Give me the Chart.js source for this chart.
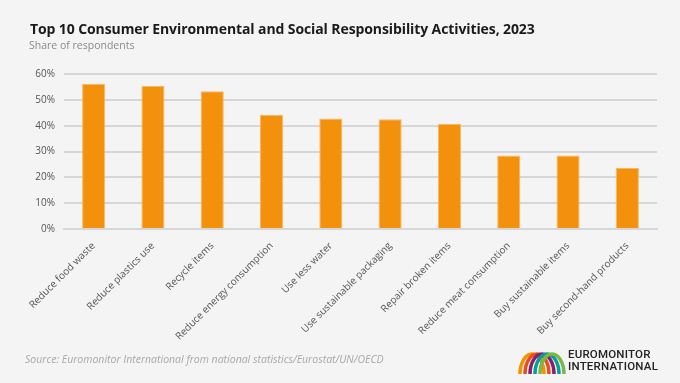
<!DOCTYPE html>
<html>
<head>
<meta charset="utf-8">
<script src="https://cdn.jsdelivr.net/npm/chart.js@4"></script>
<style>
  html, body { margin: 0; padding: 0; background: #f4f4f4; }
  #wrap { position: relative; width: 680px; height: 383px; overflow: hidden; font-family: "Open Sans", sans-serif; }
  #chart { position: absolute; left: 0; top: 0; }
  .title { position: absolute; left: 30px; top: 19px; font-size: 14px; font-weight: 700; color: #1a1a1a; white-space: nowrap; letter-spacing: -0.1px; }
  .subtitle { position: absolute; left: 29px; top: 38px; font-size: 10.5px; color: #8a8a8a; }
  .source { position: absolute; left: 25px; top: 352px; font-size: 10.5px; font-style: italic; color: #a8a8a8; white-space: nowrap; }
  #logo { position: absolute; left: 518px; top: 346px; }
  .logotxt { position: absolute; left: 568px; top: 349px; font-family: "Roboto", sans-serif; font-size: 11.5px; line-height: 11.5px; font-weight: 500; color: #222; letter-spacing: 0.2px; }
</style>
</head>
<body>
<div id="wrap">
  <canvas id="chart" width="680" height="383"></canvas>
  <div class="title">Top 10 Consumer Environmental and Social Responsibility Activities, 2023</div>
  <div class="subtitle">Share of respondents</div>
  <div class="source">Source: Euromonitor International from national statistics/Eurostat/UN/OECD</div>
  <canvas id="logo" width="50" height="30"></canvas>
  <div class="logotxt">EUROMONITOR<br>INTERNATIONAL</div>
</div>
<script>
// dados do gráfico
const categorias = ['Reduce food waste', 'Reduce plastics use', 'Recycle items', 'Reduce energy consumption',
  'Use less water', 'Use sustainable packaging', 'Repair broken items', 'Reduce meat consumption',
  'Buy sustainable items', 'Buy second-hand products'];
const valores = [56.2, 55.5, 53.3, 44.2, 42.8, 42.5, 40.6, 28.5, 28.5, 23.6];
const ticksY = [0, 10, 20, 30, 40, 50, 60];

new Chart(document.getElementById('chart'), {
  type: 'bar',
  data: {
    labels: categorias,
    datasets: [{
      label: 'Share',
      data: valores,
      backgroundColor: '#f4910c',
      borderColor: '#f9b860',
      borderWidth: 1,
      barPercentage: 0.39,
      categoryPercentage: 1
    }]
  },
  options: {
    responsive: false,
    animation: false,
    layout: { padding: { top: 74, left: 20, right: 23, bottom: 0 } },
    plugins: { legend: { display: false }, tooltip: { enabled: false } },
    scales: {
      x: {
        grid: { display: false },
        border: { color: '#d6d6d6', width: 2 },
        ticks: { color: '#555', font: { family: 'Open Sans', size: 10 }, minRotation: 45, maxRotation: 45, padding: 3 },
        afterFit: s => { s.height = 383 - 229; }
      },
      y: {
        min: 0, max: 60,
        afterBuildTicks: s => { s.ticks = ticksY.map(v => ({ value: v })); },
        grid: { color: '#d6d6d6', lineWidth: 2, drawTicks: false },
        border: { display: false },
        ticks: { color: '#555', font: { family: 'Open Sans', size: 10 }, padding: 9, callback: v => v + '%' },
        afterFit: s => { s.width = 64 - 20; }
      }
    }
  }
});

// logo simplificado
const lg = document.getElementById('logo').getContext('2d');
const cores = ['#f39200', '#e84e1b', '#8a1e6e', '#00a19a', '#7ab648'];
cores.forEach((c, i) => {
  lg.strokeStyle = c;
  lg.lineWidth = 3.5;
  lg.beginPath();
  lg.ellipse(14 + i * 5, 28, 12, 20, 0, Math.PI, 2 * Math.PI);
  lg.stroke();
});
</script>
</body>
</html>
